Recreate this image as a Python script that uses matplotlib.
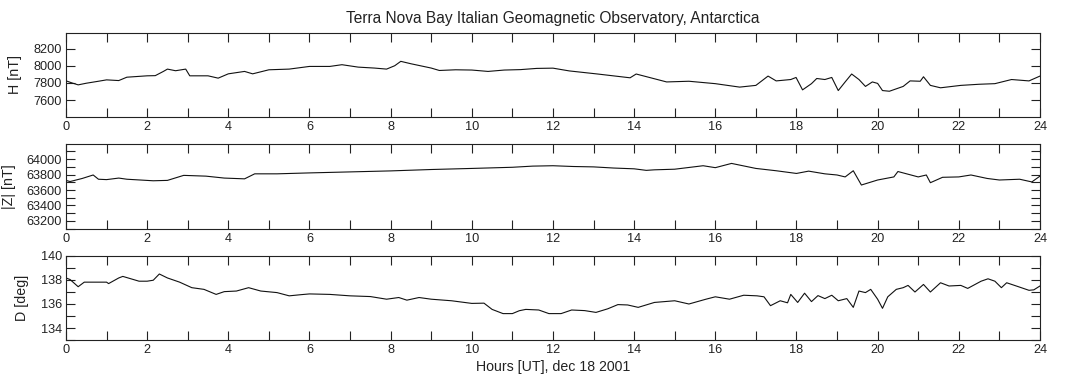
import numpy as np
from matplotlib import pyplot as plt
from matplotlib.ticker import MultipleLocator

# H component (hours, nT)
h_hours = [0, 0.15, 0.3, 0.5, 0.8, 1.0, 1.3, 1.5, 2.0, 2.2, 2.4, 2.5, 2.7, 2.95, 3.05, 3.5, 3.75, 4.0,
           4.4, 4.6, 5.0, 5.5, 6.0, 6.5, 6.8, 7.2, 7.6, 7.9, 8.1, 8.25, 8.5, 9.0, 9.2, 9.6, 10.0,
           10.4, 10.8, 11.2, 11.6, 12.0, 12.4, 13.1, 13.9, 14.05, 14.8, 15.35, 16.0, 16.6, 17.0,
           17.3, 17.5, 17.86, 17.99, 18.15, 18.37, 18.5, 18.7, 18.87, 19.03, 19.2, 19.36, 19.54,
           19.7, 19.87, 20.0, 20.12, 20.29, 20.63, 20.8, 21.05, 21.13, 21.3, 21.55, 22.05, 22.5,
           22.89, 23.3, 23.73, 24.0]
h_vals = [7825, 7800, 7778, 7797, 7820, 7836, 7828, 7867, 7883, 7885, 7934, 7961, 7942, 7961, 7883,
          7883, 7856, 7906, 7934, 7906, 7953, 7961, 7992, 7992, 8012, 7984, 7973, 7961, 8000, 8051,
          8023, 7973, 7945, 7953, 7950, 7934, 7950, 7955, 7969, 7972, 7940, 7904, 7860, 7904, 7812,
          7820, 7792, 7752, 7772, 7880, 7824, 7840, 7864, 7720, 7792, 7852, 7840, 7864, 7712, 7812,
          7904, 7840, 7760, 7812, 7795, 7712, 7704, 7760, 7824, 7820, 7872, 7772, 7744, 7772, 7785,
          7792, 7840, 7824, 7880]

# |Z| component (hours, nT)
z_hours = [0, 0.1, 0.4, 0.67, 0.8, 1.0, 1.3, 1.5, 2.15, 2.5, 2.9, 3.45, 3.9, 4.4, 4.65, 5.2, 6.0,
           7.0, 8.0, 9.0, 10.0, 11.0, 11.5, 12.0, 12.5, 13.0, 13.5, 14.0, 14.3, 14.5, 15.0, 15.7,
           16.0, 16.4, 17.0, 17.5, 18.0, 18.3, 18.7, 19.0, 19.2, 19.4, 19.6, 20.0, 20.4, 20.5,
           21.0, 21.2, 21.3, 21.6, 22.0, 22.3, 22.7, 23.0, 23.5, 23.8, 24.0]
z_vals = [63725, 63710, 63750, 63795, 63740, 63735, 63755, 63740, 63720, 63725, 63790, 63780,
          63755, 63745, 63810, 63810, 63822, 63835, 63848, 63866, 63880, 63895, 63910, 63915,
          63905, 63900, 63885, 63875, 63855, 63862, 63870, 63915, 63890, 63945, 63880, 63850,
          63815, 63845, 63810, 63795, 63770, 63850, 63665, 63730, 63770, 63840, 63770, 63795,
          63695, 63765, 63770, 63795, 63750, 63730, 63740, 63705, 63780]

# D component (hours, deg)
d_hours = [0, 0.1, 0.3, 0.45, 0.7, 1.0, 1.05, 1.3, 1.4, 1.6, 1.8, 2.0, 2.15, 2.3, 2.5, 2.8, 3.1,
           3.4, 3.7, 3.9, 4.2, 4.5, 4.8, 5.2, 5.5, 5.8, 6.0, 6.5, 7.0, 7.5, 7.9, 8.2, 8.4, 8.7,
           9.0, 9.5, 10.0, 10.3, 10.5, 10.77, 11.0, 11.17, 11.33, 11.65, 11.9, 12.2, 12.46, 12.78,
           13.06, 13.35, 13.6, 13.84, 14.1, 14.5, 15.0, 15.35, 15.77, 16.0, 16.35, 16.7, 17.03,
           17.2, 17.36, 17.6, 17.78, 17.86, 18.03, 18.2, 18.37, 18.53, 18.7, 18.87, 19.03, 19.24,
           19.4, 19.54, 19.7, 19.83, 20.0, 20.12, 20.25, 20.46, 20.63, 20.75, 20.92, 21.13, 21.3,
           21.55, 21.76, 22.05, 22.22, 22.55, 22.72, 22.89, 23.05, 23.18, 23.47, 23.73, 23.85, 24.0]
d_vals = [138.17, 138.04, 137.44, 137.82, 137.82, 137.82, 137.7, 138.17, 138.3, 138.1, 137.9, 137.9,
          137.98, 138.5, 138.17, 137.82, 137.36, 137.22, 136.8, 137.03, 137.08, 137.36, 137.08,
          136.95, 136.68, 136.78, 136.84, 136.8, 136.68, 136.62, 136.4, 136.54, 136.32, 136.54,
          136.4, 136.27, 136.05, 136.07, 135.55, 135.2, 135.2, 135.44, 135.55, 135.5, 135.2, 135.2,
          135.5, 135.45, 135.3, 135.6, 135.95, 135.92, 135.72, 136.13, 136.27, 136.0, 136.4, 136.6,
          136.4, 136.73, 136.68, 136.6, 135.86, 136.27, 136.1, 136.8, 136.13, 136.9, 136.2, 136.7,
          136.45, 136.73, 136.27, 136.45, 135.72, 137.08, 136.95, 137.22, 136.4, 135.64, 136.6,
          137.22, 137.36, 137.55, 137.0, 137.63, 137.0, 137.77, 137.5, 137.55, 137.3, 137.9, 138.1,
          137.9, 137.36, 137.77, 137.44, 137.14, 137.18, 137.5]

plt.rcParams['font.family'] = ['Liberation Sans', 'DejaVu Sans']
plt.rcParams['font.size'] = 9

fig = plt.figure(figsize=(10.73, 3.81), dpi=100)

# (시간, 값, y축 이름, y범위, 주눈금, 보조눈금, 라벨 위치, 축 위치)
panels = [
    (h_hours, h_vals, 'H [nT]', (7405, 8380), 200, None, -0.045, [0.0615, 0.6929, 0.9077, 0.2205]),
    (z_hours, z_vals, '|Z| [nT]', (63095, 64197), 200, 100, -0.051, [0.0615, 0.3990, 0.9077, 0.2231]),
    (d_hours, d_vals, 'D [deg]', (133, 140), 2, 1, -0.038, [0.0615, 0.1076, 0.9077, 0.2205]),
]

axes = []
for hrs, vals, lab, ylim, major, minor, lx, pos in panels:
    ax = fig.add_axes(pos)
    ax.plot(hrs, vals, color='#111111', lw=0.8)  # 관측 데이터 선
    ax.set_xlim(0, 24)
    ax.set_ylim(*ylim)
    ax.xaxis.set_major_locator(MultipleLocator(2))
    ax.xaxis.set_minor_locator(MultipleLocator(1))
    ax.yaxis.set_major_locator(MultipleLocator(major))
    if minor:
        ax.yaxis.set_minor_locator(MultipleLocator(minor))
    ax.tick_params(which='both', direction='in', top=True, right=True, length=6.5,
                   width=0.8, color='#222222', labelcolor='#222222', pad=3, labelsize=9.2)
    ax.set_ylabel(lab, color='#222222', fontsize=10.3)
    ax.yaxis.set_label_coords(lx, 0.5)
    for s in ax.spines.values():
        s.set_color('#222222')
        s.set_linewidth(0.8)
    axes.append(ax)

axes[0].set_title('Terra Nova Bay Italian Geomagnetic Observatory, Antarctica', fontsize=11.2,
                  color='#222222', pad=7)
axes[2].set_xlabel('Hours [UT], dec 18 2001', color='#222222', fontsize=10.2, labelpad=3)

plt.savefig('out.png', dpi=100)
